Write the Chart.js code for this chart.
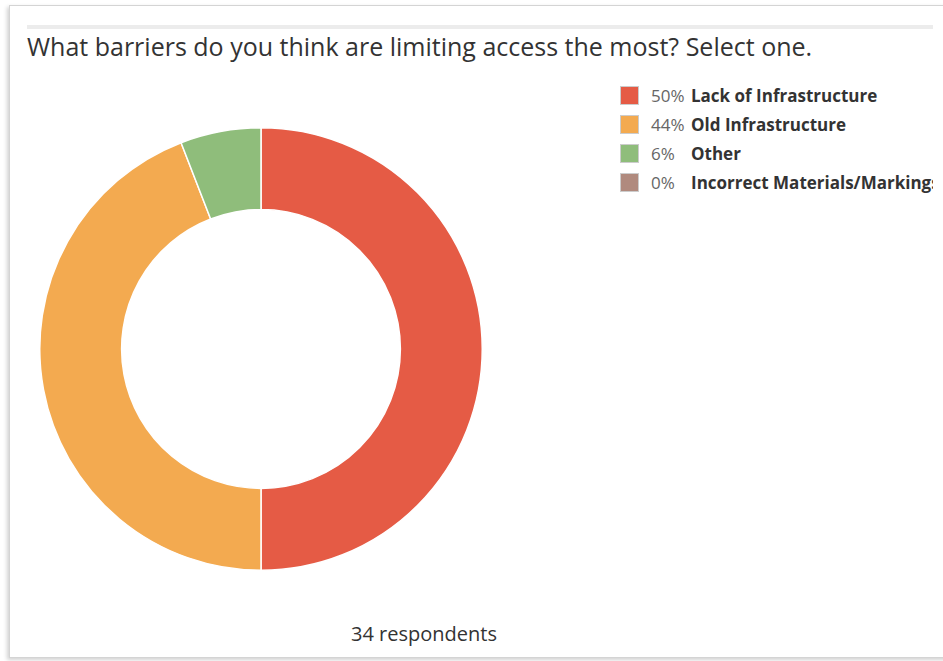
<!DOCTYPE html>
<html>
<head>
<meta charset="utf-8">
<script src="https://cdn.jsdelivr.net/npm/chart.js@4/dist/chart.umd.min.js"></script>
<style>
  html, body { margin: 0; padding: 0; background: #fff; }
  body { width: 943px; height: 661px; position: relative; overflow: hidden; font-family: "Open Sans", sans-serif; }
  #frame {
    position: absolute; left: 9px; top: 5px; width: 960px; height: 651px;
    border: 1px solid #d4d4d4; border-right: none;
    box-shadow: -2px 2px 4px rgba(0,0,0,0.18);
  }
  #bar { position: absolute; left: 27px; top: 25px; width: 906px; height: 4px; background: #ececec; }
  #title { position: absolute; left: 27px; top: 29px; font-size: 25px; color: #333; white-space: nowrap; }
  #chartBox { position: absolute; left: 39px; top: 127px; width: 444px; height: 444px; }
  #legend { position: absolute; left: 620px; top: 81px; width: 313px; overflow: hidden; }
  .row { height: 29px; display: flex; align-items: center; white-space: nowrap; font-size: 17px; }
  .sw { width: 19px; height: 19px; border: 1px solid #ccc; box-sizing: border-box; margin-right: 12px; flex: none; }
  .sw span { display: block; width: 100%; height: 100%; }
  .pct { color: #666; width: 40px; flex: none; }
  .lbl { color: #333; font-weight: bold; }
  #resp { position: absolute; left: 261px; width: 326px; top: 620px; text-align: center; font-size: 20px; color: #333; }
</style>
</head>
<body>
<div id="frame"></div>
<div id="bar"></div>
<div id="title">What barriers do you think are limiting access the most? Select one.</div>
<div id="chartBox"><canvas id="barrierChart"></canvas></div>
<div id="legend"></div>
<div id="resp">34 respondents</div>
<script>
// answers, counted per option (34 respondents)
var labels = ['Lack of Infrastructure', 'Old Infrastructure', 'Other', 'Incorrect Materials/Markings'];
var counts = [17, 15, 2, 0];
var percents = ['50%', '44%', '6%', '0%'];
var colors = ['#E55B45', '#F3AA50', '#8FBD7B', '#B08A7E'];

// legend: percent + label, built from arrays
var legendHtml = '';
for (var i = 0; i < labels.length; i++) {
    legendHtml += '<div class="row"><div class="sw"><span style="background:' + colors[i] + '"></span></div>'
        + '<span class="pct">' + percents[i] + '</span><span class="lbl">' + labels[i] + '</span></div>';
}
document.getElementById('legend').innerHTML = legendHtml;

var ctx = document.getElementById('barrierChart').getContext('2d');
var barrierChart = new Chart(ctx, {
    type: 'doughnut',
    data: {
        labels: labels,
        datasets: [{
            data: counts,
            backgroundColor: colors,
            borderColor: '#ffffff',
            borderWidth: 1.5
        }]
    },
    options: {
        responsive: true,
        maintainAspectRatio: false,
        animation: false,
        cutout: '63%',
        layout: { padding: 0 },
        plugins: {
            legend: { display: false },
            tooltip: { enabled: false }
        }
    }
});
</script>
</body>
</html>
